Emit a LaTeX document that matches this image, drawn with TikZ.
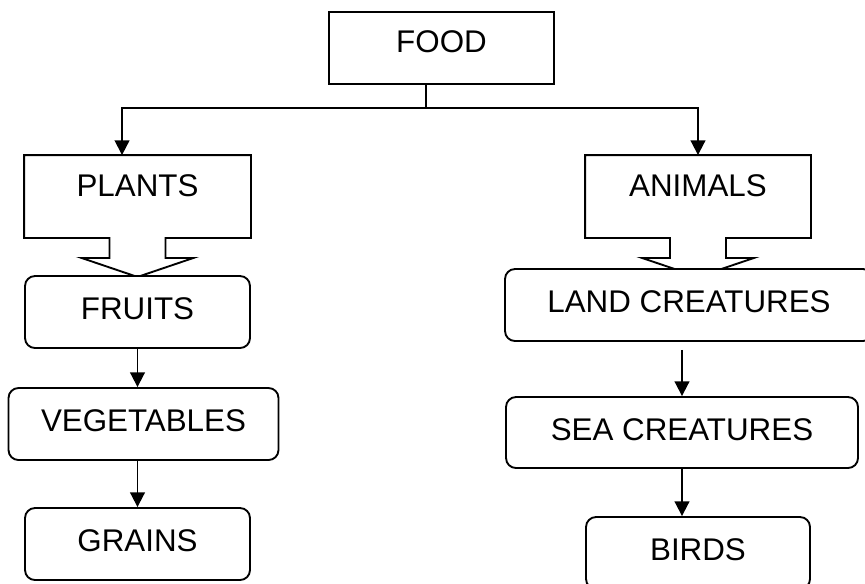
\documentclass[tikz,border=0pt]{standalone}
\usepackage{fontspec}
\setmainfont{Liberation Sans}
\usetikzlibrary{arrows.meta,calc}

\begin{document}
\begin{tikzpicture}[x=0.75pt,y=-0.75pt,line width=1.4pt,
        box/.style={draw,fill=white,inner sep=0pt,font=\fontsize{23.5}{28}\selectfont,text height=16.8pt,text depth=5.25pt},
        rbox/.style={box,rounded corners=7.5pt},
        arr/.style={-{Triangle[length=11pt,width=11pt]}}]
        \useasboundingbox(0,0)rectangle(865,583);
        \clip(0,0)rectangle(865,583);

        % top level
        \node[box,minimum width=168.75pt,minimum height=54pt,text depth=9.75pt](food)at(441.5,48){FOOD};
        \node[box,draw=none,fill=none,minimum width=168.75pt,minimum height=60.75pt,text depth=17.25pt](plants)at(137.5,196.5){PLANTS};
        \node[box,draw=none,fill=none,minimum width=168pt,minimum height=60.75pt,text depth=17.25pt](animals)at(698,196.5){ANIMALS};

        % callout outlines
        \foreach \n in {plants,animals}
            \draw(\n.north west)--(\n.north east)--(\n.south east)--($(\n.south)+(28,0)$)--++(0,20)--++(28,0)
                --($(\n.south)+(0,39)$)--($(\n.south)+(-56,20)$)--++(28,0)--++(0,-20)--(\n.south west)--cycle;

        % plants side
        \node[rbox,minimum width=168.75pt,minimum height=54pt](fruits)at(137.5,312){FRUITS};
        \node[rbox,minimum width=202.5pt,minimum height=54pt](veg)at(143.5,424){VEGETABLES};
        \node[rbox,minimum width=168.75pt,minimum height=54pt](grains)at(137.5,544){GRAINS};

        % animals side
        \node[rbox,minimum width=276pt,minimum height=54pt](land)at(689,305){LAND CREATURES};
        \node[rbox,minimum width=264pt,minimum height=53.25pt](sea)at(682,432.5){SEA CREATURES};
        \node[rbox,minimum width=168pt,minimum height=54pt](birds)at(698,553){BIRDS};

        % connectors
        \coordinate(split)at(426,108);
        \draw(split|-food.south)--(split);
        \draw[arr](split)-|([xshift=-11.6pt]plants.north);
        \draw[arr](split)-|(animals.north);
        \draw[arr](fruits.south)--(fruits.south|-veg.north);
        \draw[arr](veg.south-|grains.north)--(grains.north);
        \draw[arr]($(land.south-|sea.north)+(0,8)$)--(sea.north);
        \draw[arr](sea.south)--(sea.south|-birds.north);
    \end{tikzpicture}
\end{document}
